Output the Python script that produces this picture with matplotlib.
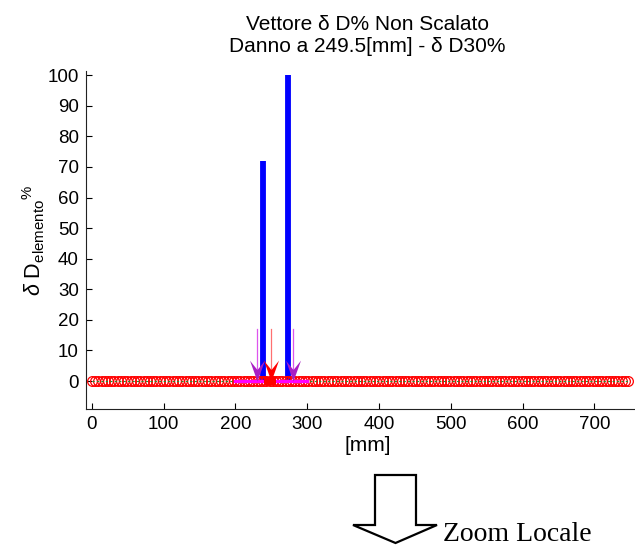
import numpy as np
import matplotlib
matplotlib.use("Agg")
import matplotlib.pyplot as plt
from matplotlib.path import Path
from matplotlib.patches import Polygon

plt.rcParams['font.family'] = ['Liberation Sans', 'DejaVu Sans']
plt.rcParams['mathtext.fontset'] = 'custom'
plt.rcParams['mathtext.rm'] = 'Liberation Sans'
plt.rcParams['mathtext.it'] = 'Liberation Sans:italic'

# ---- data ----
beam_length = 750
node_step = 4.5
nodes = np.arange(0, beam_length + 1, node_step)      # node grid [mm]
zero_values = np.zeros_like(nodes, dtype=float)

bar_x = [238, 273]            # elements with damage index [mm]
bar_h = [72, 100]             # delta D %

damage_pos = 249.5            # true damage location [mm]
damage_extent = [240, 257]    # red segment
detect_arrows = [230, 280]    # magenta arrows [mm]
detect_zone = [200, 300]      # magenta segment [mm]
arrow_top = 17

xticks = list(range(0, 701, 100))
yticks = list(range(0, 101, 10))

# ---- figure ----
fig = plt.figure(figsize=(6.35, 5.48), dpi=100)
ax = fig.add_axes([0.135, 0.253, 0.887, 0.617])

ax.vlines(bar_x, 0, bar_h, colors='#0000ff', linewidth=4.2, zorder=2)

ax.plot(nodes, zero_values, linestyle='none', marker='o', markersize=7,
        markerfacecolor='none', markeredgecolor='#ff0000', markeredgewidth=0.9, zorder=3)
ax.plot(nodes, zero_values, linestyle=(0, (2, 2)), color='#2e8b2e', linewidth=0.8, zorder=4)

ax.plot(detect_zone, [0, 0], color='#ff00ff', linewidth=2.4, zorder=5)
ax.plot(damage_extent, [0, 0], color='#ff0000', linewidth=6, zorder=6, solid_capstyle='butt')

head = Path([(0, 0), (-0.36, 1.0), (0, 0.55), (0.36, 1.0), (0, 0)],
            [Path.MOVETO, Path.LINETO, Path.LINETO, Path.LINETO, Path.CLOSEPOLY])

for xa in detect_arrows:
    ax.plot([xa, xa], [arrow_top, 3], color='#dd55ee', linewidth=0.9, zorder=6)
    ax.plot([xa], [0], linestyle='none', marker=head, markersize=30,
            color='#a81ec4', markeredgewidth=0, zorder=7)
ax.plot([damage_pos, damage_pos], [arrow_top, 3], color='#ff7070', linewidth=0.9, zorder=6)
ax.plot([damage_pos], [0], linestyle='none', marker=head, markersize=30,
        color='#ff0000', markeredgewidth=0, zorder=8)

ax.set_xlim(-8.5, 776)
ax.set_ylim(-9.25, 101.3)
ax.set_xticks(xticks)
ax.set_yticks(yticks)
ax.tick_params(direction='in', length=4, width=0.8, labelsize=13.5, colors='black', pad=5)
for s in ['top', 'right']:
    ax.spines[s].set_visible(False)
for s in ['left', 'bottom']:
    ax.spines[s].set_color('#222222')
    ax.spines[s].set_linewidth(0.8)

ax.set_title('Vettore \u03b4 D% Non Scalato\nDanno a 249.5[mm] - \u03b4 D30%',
             fontsize=15, pad=14, linespacing=1.2)
ax.set_xlabel('[mm]', fontsize=15, labelpad=2)
ax.set_ylabel(r'$\delta$ D$_{\mathrm{elemento}}$$^{\%}$', fontsize=15.5, labelpad=0)

# "Zoom Locale" outline arrow (decoration in figure pixels)
W, H = 635.0, 548.0
pts_px = [(375, 475), (416, 475), (416, 525), (437, 525), (395.5, 543),
          (353, 525), (375, 525)]
pts = [(x / W, 1 - y / H) for x, y in pts_px]
fig.patches.append(Polygon(pts, closed=True, fill=False, edgecolor='black',
                           linewidth=1.6, transform=fig.transFigure, joinstyle='miter'))
fig.text(443 / W, 1 - 541 / H, 'Zoom Locale', family='Liberation Serif', fontsize=20,
         ha='left', va='baseline')

fig.savefig('out.png', dpi=100)
